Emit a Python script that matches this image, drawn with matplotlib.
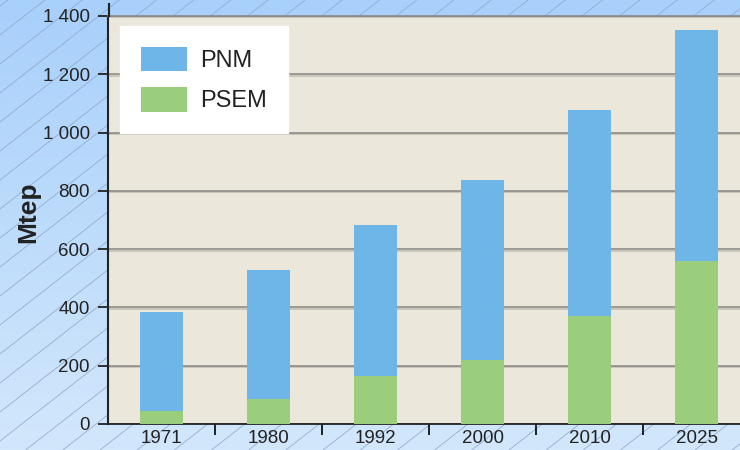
import numpy as np
import matplotlib
matplotlib.use('Agg')
import matplotlib.pyplot as plt
import matplotlib.patheffects as pe
from matplotlib.lines import Line2D
from matplotlib.ticker import FuncFormatter

plt.rcParams['font.family'] = ['Liberation Sans', 'DejaVu Sans']

# data (Mtep)
years = ['1971', '1980', '1992', '2000', '2010', '2025']
psem = [45, 86, 165, 220, 371, 559]
pnm = [339, 442, 518, 617, 707, 793]

blue = '#6eb6e8'
green = '#9acd7c'

fig = plt.figure(figsize=(7.4, 4.5), dpi=100)

# hatched blue background
bg = fig.add_axes([0, 0, 1, 1], zorder=-2)
grad = np.linspace(0, 1, 256).reshape(-1, 1)
cmap = matplotlib.colors.LinearSegmentedColormap.from_list('bg', ['#d2e7fb', '#a8d0fb'])
bg.imshow(grad, cmap=cmap, aspect='auto', extent=[0, 740, 0, 450], origin='lower')
slope = 0.78
xs = np.array([0, 740])
for c in np.arange(-600, 460, 29):
    bg.plot(xs, slope * xs + c, color='#93a8cc', lw=0.55)
bg.set_xlim(0, 740)
bg.set_ylim(0, 450)
bg.axis('off')

ax = fig.add_axes([108 / 740, 26 / 450, 642 / 740, 408 / 450])
ax.set_facecolor('#ebe7da')
x = np.arange(len(years))
w = 0.41
ax.bar(x, psem, w, color=green, label='PSEM', zorder=3)
ax.bar(x, pnm, w, bottom=psem, color=blue, label='PNM', zorder=3)

ax.set_xlim(-0.5, len(years) - 0.5)
ax.set_ylim(0, 1400)
ax.set_yticks(range(0, 1401, 200))
ax.yaxis.set_major_formatter(FuncFormatter(lambda v, p: '{:,}'.format(int(v)).replace(',', ' ')))
ax.tick_params(axis='y', length=7, width=1.3, pad=6, labelsize=13.5, colors='#222222')

ax.set_xticks(x + 0.5)
ax.set_xticklabels([])
ax.set_xticks(x, minor=True)
ax.set_xticklabels(years, minor=True)
ax.tick_params(axis='x', which='major', length=8, width=1.2, direction='out')
ax.tick_params(axis='x', which='minor', length=0, pad=4.5, labelsize=13.5, labelcolor='#222222')

ax.grid(axis='y', color='#8e8c88', lw=1.2, zorder=1)
for gl in ax.get_ygridlines():
    gl.set_path_effects([pe.SimpleLineShadow(offset=(0, -1), shadow_color='#c4c0b4', alpha=1),
                         pe.Normal()])

ax.spines['left'].set_color('#222222')
ax.spines['left'].set_linewidth(1.5)
ax.spines['bottom'].set_color('#222222')
ax.spines['bottom'].set_linewidth(1.3)
ax.spines['top'].set_color('#8a8a8a')
ax.spines['top'].set_linewidth(1.2)
ax.spines['right'].set_visible(False)
fig.add_artist(Line2D([109 / 740] * 2, [434 / 450, 446 / 450], color='#222222', lw=1.5))

ax.set_ylabel('Mtep', fontsize=19, fontweight='bold', color='#222222')
ax.yaxis.set_label_coords(-0.105, 0.52)

handles, labels = ax.get_legend_handles_labels()
leg = ax.legend(handles[::-1], labels[::-1], loc='upper left', bbox_to_anchor=(0.0187, 0.9755),
                fontsize=17, frameon=True, fancybox=False, facecolor='white', edgecolor='white',
                framealpha=1, handlelength=1.95, handleheight=1.2, handletextpad=0.58,
                labelspacing=0.66, borderpad=0.88, borderaxespad=0)
for t in leg.get_texts():
    t.set_color('#222222')

fig.savefig('out.png', dpi=100)
